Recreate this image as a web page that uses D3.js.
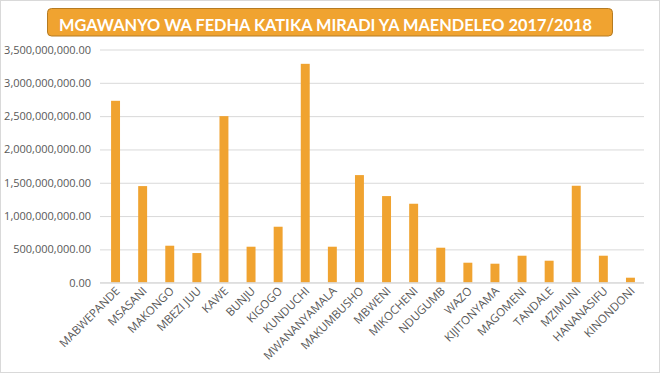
<!DOCTYPE html>
<html>
<head>
<meta charset="utf-8">
<script src="https://cdn.jsdelivr.net/npm/d3@7"></script>
<style>
    body { margin: 0; background: #fff; }
    #chart { width: 663px; height: 375px; }
    .tick text { font-family: "Open Sans", sans-serif; fill: #595959; }
</style>
</head>
<body>
<div id="chart"></div>
<script>
// Data
const wards = [
    'MABWEPANDE', 'MSASANI', 'MAKONGO', 'MBEZI JUU', 'KAWE', 'BUNJU', 'KIGOGO',
    'KUNDUCHI', 'MWANANYAMALA', 'MAKUMBUSHO', 'MBWENI', 'MIKOCHENI', 'NDUGUMB',
    'WAZO', 'KIJITONYAMA', 'MAGOMENI', 'TANDALE', 'MZIMUNI', 'HANANASIFU', 'KINONDONI'
];
const amounts = [
    2730000000, 1450000000, 555000000, 445000000, 2500000000, 540000000, 840000000,
    3285000000, 540000000, 1615000000, 1300000000, 1185000000, 525000000,
    300000000, 285000000, 405000000, 330000000, 1455000000, 405000000, 75000000
];
const yTicks = [0, 500000000, 1000000000, 1500000000, 2000000000, 2500000000, 3000000000, 3500000000];
const title = 'MGAWANYO WA FEDHA KATIKA MIRADI YA MAENDELEO 2017/2018';

const data = wards.map((w, i) => ({ ward: w, amount: amounts[i] }));

const W = 663, H = 375;
const plot = { left: 102, right: 644, top: 49.5, bottom: 282.7 };

const svg = d3.select('#chart')
    .append('svg')
    .attr('width', W)
    .attr('height', H);

// chart area border
svg.append('rect')
    .attr('x', 0.5).attr('y', 0.5)
    .attr('width', 659).attr('height', 372)
    .attr('fill', '#fff')
    .attr('stroke', '#d9d9d9');

const x = d3.scaleBand()
    .domain(wards)
    .range([plot.left, plot.right])
    .paddingInner(0.67)
    .paddingOuter(0.335);

const y = d3.scaleLinear()
    .domain([0, 3500000000])
    .range([plot.bottom, plot.top]);

const fmt = d3.format(',.2f');

// gridlines + y labels
const yAxis = svg.append('g')
    .attr('transform', 'translate(100,0)')
    .call(d3.axisLeft(y).tickValues(yTicks).tickFormat(fmt).tickSize(0).tickPadding(9));
yAxis.select('.domain').remove();
yAxis.selectAll('.tick text').style('font-size', '11px');
yAxis.selectAll('.tick').append('line')
    .attr('x1', 0).attr('x2', plot.right - 100)
    .attr('stroke', '#d9d9d9')
    .attr('stroke-width', 1);

// bars
svg.selectAll('.bar')
    .data(data)
    .enter()
    .append('rect')
    .attr('class', 'bar')
    .attr('x', d => x(d.ward))
    .attr('width', x.bandwidth())
    .attr('y', d => y(d.amount))
    .attr('height', d => y(0) - y(d.amount))
    .attr('fill', '#f0a330');

// x axis
const xAxis = svg.append('g')
    .attr('transform', `translate(0,${plot.bottom})`)
    .call(d3.axisBottom(x).tickSize(0).tickPadding(0));
xAxis.select('.domain')
    .attr('d', `M100,0H${plot.right}`)
    .attr('stroke', '#d9d9d9');
xAxis.selectAll('.tick text')
    .style('font-size', '11.5px')
    .attr('text-anchor', 'end')
    .attr('dy', 0)
    .attr('transform', 'translate(5,9) rotate(-45)');

// title box
const tg = svg.append('g');
tg.append('rect')
    .attr('x', 47.5).attr('y', 8.5)
    .attr('width', 565).attr('height', 27.5)
    .attr('rx', 4)
    .attr('fill', '#f0a330')
    .attr('stroke', '#b57b22');
tg.append('text')
    .attr('x', 59)
    .attr('y', 30.5)
    .attr('textLength', 533)
    .attr('lengthAdjust', 'spacingAndGlyphs')
    .style('font-family', 'Lato, sans-serif')
    .style('font-weight', 'bold')
    .style('font-size', '17px')
    .style('fill', '#fff')
    .text(title);
</script>
</body>
</html>
